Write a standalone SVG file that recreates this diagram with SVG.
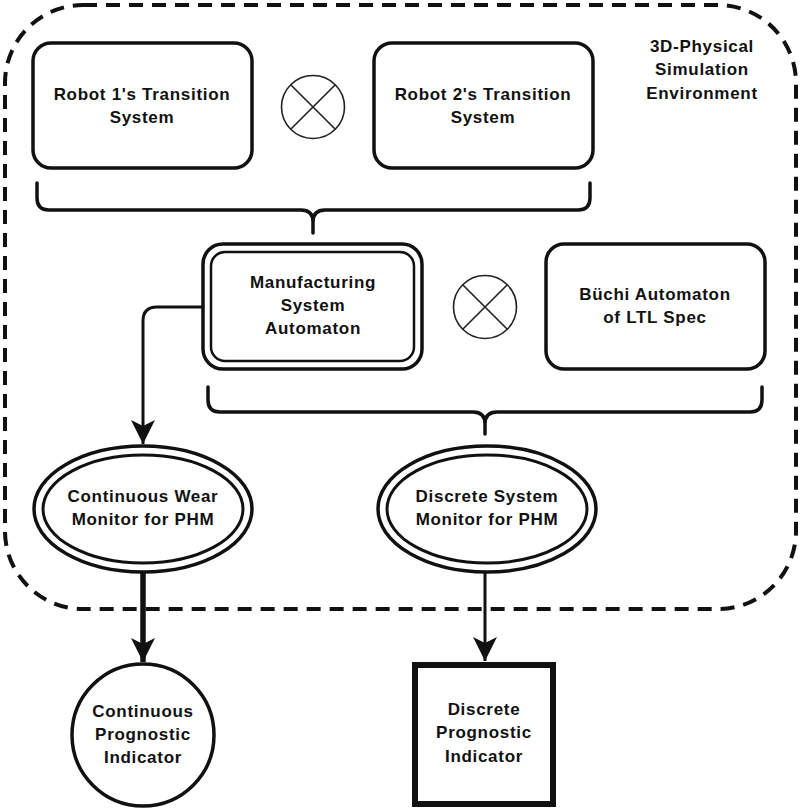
<svg xmlns="http://www.w3.org/2000/svg" width="800" height="809" viewBox="0 0 800 809">
<defs>
<style>
text{font-family:"Liberation Sans",Arial,sans-serif;font-weight:bold;font-size:17px;letter-spacing:0.7px;fill:#111;text-anchor:middle}
.box{fill:#fff;stroke:#111;stroke-width:3.5}
.thin{fill:none;stroke:#111;stroke-width:3}
.otimes{fill:#fff;stroke:#222;stroke-width:1.6}
.brace{fill:none;stroke:#111;stroke-width:3.5;stroke-linecap:round}
.env{fill:none;stroke:#111;stroke-width:4;stroke-dasharray:14 9}
</style>
<marker id="ah2" viewBox="0 0 24 24" refX="24" refY="12" markerWidth="24" markerHeight="24" markerUnits="userSpaceOnUse" orient="auto">
<path d="M0,0 L24,12 L0,24 L6,12 z" fill="#111"/>
</marker>
</defs>
<rect width="800" height="809" fill="#fff"/>

<g id="environment">
<rect class="env" x="5" y="5" width="791" height="604" rx="78" ry="78"/>
<text x="702" y="52">3D-Physical</text>
<text x="702" y="75">Simulation</text>
<text x="702" y="99">Environment</text>
</g>

<g id="connectors">
<path class="brace" d="M37,183 V198 Q37,210 49,210 H301 Q313,210 313,222 V233 M590,183 V198 Q590,210 578,210 H325 Q313,210 313,222"/>
<path class="brace" d="M208,387 V400 Q208,412 220,412 H473 Q485,412 485,424 V434 M762,387 V400 Q762,412 750,412 H497 Q485,412 485,424"/>
<path class="thin" d="M202,307 H157 Q143,307 143,321 V444" marker-end="url(#ah2)"/>
<path fill="none" stroke="#111" stroke-width="5.5" d="M143,573 V662" marker-end="url(#ah2)"/>
<path class="thin" d="M485,573 V661" marker-end="url(#ah2)"/>
</g>

<g id="robot1">
<rect class="box" x="33" y="43" width="219" height="125" rx="18"/>
<text x="142" y="100">Robot 1's Transition</text>
<text x="142" y="123">System</text>
</g>

<g id="product1">
<circle class="otimes" cx="313" cy="107" r="31.5"/>
<path stroke="#222" stroke-width="1.6" d="M290.7,84.7 L335.3,129.3 M335.3,84.7 L290.7,129.3"/>
</g>

<g id="robot2">
<rect class="box" x="374" y="43" width="219" height="125" rx="18"/>
<text x="483" y="100">Robot 2's Transition</text>
<text x="483" y="123">System</text>
</g>

<g id="manufacturing">
<rect class="box" x="203" y="244" width="219" height="125" rx="20"/>
<rect fill="none" stroke="#111" stroke-width="2.5" x="211" y="252" width="203" height="109" rx="14"/>
<text x="313" y="288">Manufacturing</text>
<text x="313" y="311">System</text>
<text x="313" y="334">Automaton</text>
</g>

<g id="product2">
<circle class="otimes" cx="485" cy="307" r="31.5"/>
<path stroke="#222" stroke-width="1.6" d="M462.7,284.7 L507.3,329.3 M507.3,284.7 L462.7,329.3"/>
</g>

<g id="buchi">
<rect class="box" x="546" y="244" width="219" height="125" rx="18"/>
<text x="655" y="300">Büchi Automaton</text>
<text x="655" y="323">of LTL Spec</text>
</g>

<g id="continuousMonitor">
<ellipse class="box" cx="143" cy="509" rx="109" ry="63"/>
<ellipse fill="none" stroke="#111" stroke-width="3" cx="143" cy="509" rx="100" ry="54"/>
<text x="143" y="502">Continuous Wear</text>
<text x="143" y="525">Monitor for PHM</text>
</g>

<g id="discreteMonitor">
<ellipse class="box" cx="487" cy="509" rx="109" ry="63"/>
<ellipse fill="none" stroke="#111" stroke-width="3" cx="487" cy="509" rx="100" ry="54"/>
<text x="487" y="502">Discrete System</text>
<text x="487" y="525">Monitor for PHM</text>
</g>

<g id="continuousIndicator">
<circle class="box" cx="143" cy="735" r="71"/>
<text x="143" y="717">Continuous</text>
<text x="143" y="740">Prognostic</text>
<text x="143" y="763">Indicator</text>
</g>

<g id="discreteIndicator">
<rect fill="#fff" stroke="#111" stroke-width="6" x="415" y="665" width="138" height="139"/>
<text x="484" y="715">Discrete</text>
<text x="484" y="738">Prognostic</text>
<text x="484" y="762">Indicator</text>
</g>
</svg>
